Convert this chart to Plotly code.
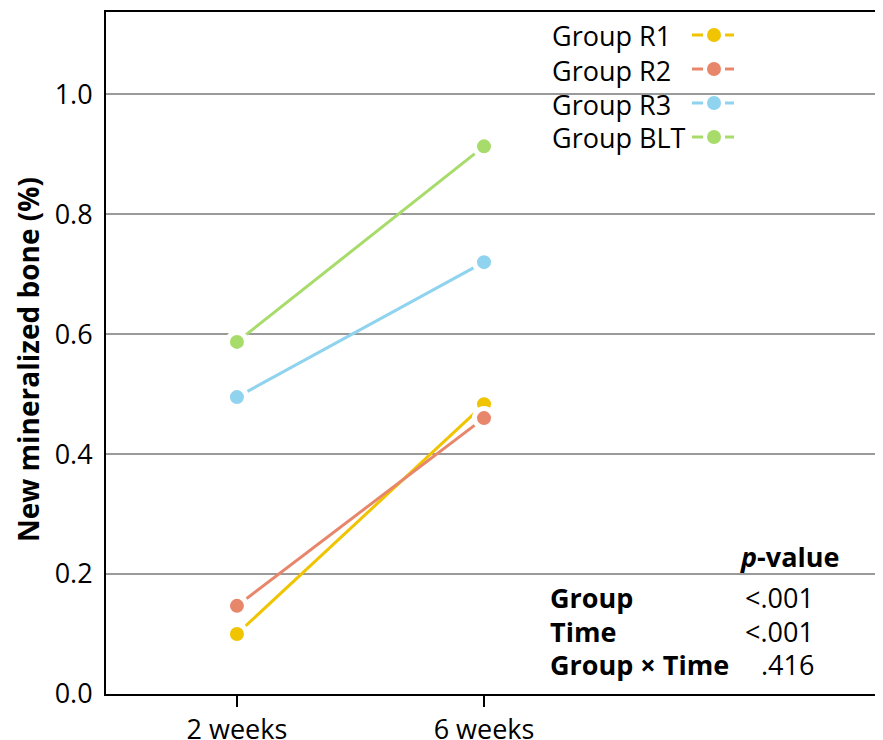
import plotly.graph_objects as go

# ---- data ----
times = ["2 weeks", "6 weeks"]
groups = ["Group R1", "Group R2", "Group R3", "Group BLT"]
r1 = [0.100, 0.483]
r2 = [0.147, 0.460]
r3 = [0.495, 0.720]
blt = [0.587, 0.913]
series = [r1, r2, r3, blt]
colors = ["#F0C400", "#E8866B", "#8FD3EF", "#A8DC6A"]

pv_labels = ["Group", "Time", "Group × Time"]
pv_values = ["&lt;.001", "&lt;.001", ".416"]

# page offset compensation (body margin of the page)
OFF = 8
W, H = 883 - OFF, 740 - OFF
L, R, T, B = 106 - OFF, 0, 12 - OFF, 740 - 694
FONT = "Open Sans"


def px(x):
    return (x - OFF - L) / (W - L - R)


def py(y):
    return (H - B - (y - OFF)) / (H - B - T)


fig = go.Figure()

# lines first
for vals, c in zip(series, colors):
    fig.add_trace(go.Scatter(x=times, y=vals, mode="lines",
                             line=dict(color=c, width=3), showlegend=False,
                             hoverinfo="skip"))
# markers with white halo (gap between line and marker)
for name, vals, c in zip(groups, series, colors):
    fig.add_trace(go.Scatter(x=times, y=vals, mode="markers", name=name,
                             marker=dict(color=c, size=19,
                                         line=dict(color="white", width=5)),
                             showlegend=False))

annotations = []
shapes = []

# custom legend: text then dash-dot-dash symbol
leg_y = [36, 70, 104, 138]
for name, c, yy in zip(groups, colors, leg_y):
    annotations.append(dict(text=name, x=px(550), y=py(yy), xref="paper", yref="paper",
                            xanchor="left", yanchor="middle", showarrow=False,
                            font=dict(family=FONT, size=27, color="black")))
    sy = yy - 1
    for x0, x1 in [(692, 703), (725, 734)]:
        shapes.append(dict(type="line", xref="paper", yref="paper",
                           x0=px(x0), x1=px(x1), y0=py(sy), y1=py(sy),
                           line=dict(color=c, width=3)))
    shapes.append(dict(type="circle", xref="paper", yref="paper",
                       x0=px(714 - 7), x1=px(714 + 7), y0=py(sy + 7), y1=py(sy - 7),
                       fillcolor=c, line=dict(color=c, width=0)))

# p-value table
annotations.append(dict(text="<b><i>p</i>-value</b>", x=px(841), y=py(556),
                        xref="paper", yref="paper", xanchor="right", yanchor="middle",
                        showarrow=False, font=dict(family=FONT, size=27, color="black")))
for lab, val, yy in zip(pv_labels, pv_values, [597, 631, 664]):
    annotations.append(dict(text=f"<b>{lab}</b>", x=px(548), y=py(yy),
                            xref="paper", yref="paper", xanchor="left", yanchor="middle",
                            showarrow=False, font=dict(family=FONT, size=27, color="black")))
    annotations.append(dict(text=val, x=px(816), y=py(yy),
                            xref="paper", yref="paper", xanchor="right", yanchor="middle",
                            showarrow=False, font=dict(family=FONT, size=27, color="black")))

# y-axis title
annotations.append(dict(text="<b>New mineralized bone (%)</b>", x=px(28), y=py(360),
                        xref="paper", yref="paper", xanchor="center", yanchor="middle",
                        textangle=-90, showarrow=False,
                        font=dict(family=FONT, size=28, color="black")))

fig.update_layout(
    width=W, height=H,
    margin=dict(l=L, r=R, t=T, b=B, autoexpand=False),
    paper_bgcolor="white", plot_bgcolor="white",
    font=dict(family=FONT, size=27, color="black"),
    annotations=annotations, shapes=shapes,
    showlegend=False,
)
fig.update_xaxes(
    type="category", range=[-0.53, 2.615], automargin=False,
    showline=True, linecolor="black", linewidth=2, mirror=True,
    ticks="outside", ticklen=11, tickwidth=2, tickcolor="black",
    showgrid=False, zeroline=False,
    tickfont=dict(family=FONT, size=27, color="black"),
)
fig.update_yaxes(
    range=[0, 1.137], tickvals=[0, 0.2, 0.4, 0.6, 0.8, 1.0], automargin=False,
    ticktext=["0.0", "0.2", "0.4", "0.6", "0.8", "1.0"],
    showline=True, linecolor="black", linewidth=2,
    showgrid=True, gridcolor="#9a9a9a", gridwidth=1.5,
    zeroline=False, ticks="", ticklabelstandoff=6,
    tickfont=dict(family=FONT, size=27, color="black"),
)

fig.write_html("out.html")
